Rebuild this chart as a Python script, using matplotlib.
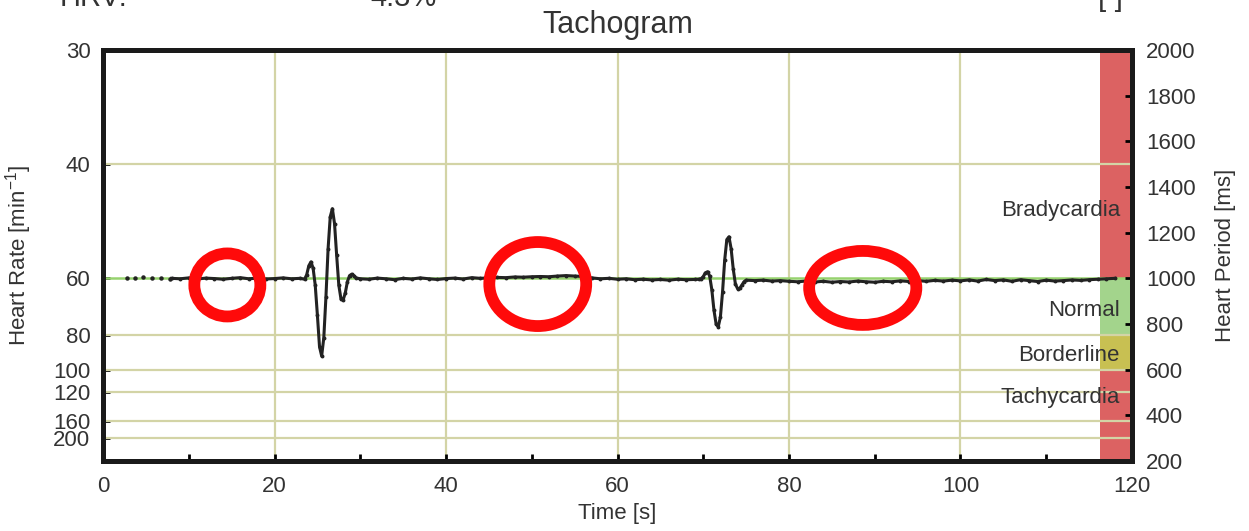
import matplotlib.pyplot as plt
from matplotlib.patches import Ellipse, Rectangle
import numpy as np

plt.rcParams['font.family'] = ['Liberation Sans', 'DejaVu Sans']
plt.rcParams['mathtext.default'] = 'regular'
TXT = '#333333'

# beat-to-beat heart period (ms) over time (s)
start_t = [2.8, 3.7, 4.7, 5.7, 6.8, 7.8]
start_ms = [1003, 1002, 1004, 1003, 1001, 999]

time_s = ([8, 9, 10, 11, 12, 13, 14, 15, 16, 17, 18, 19, 20, 21, 22,
           23.0, 23.5, 23.75, 24.0, 24.25, 24.5, 24.75, 25.0, 25.25, 25.5, 25.75,
           26.0, 26.25, 26.5, 26.75, 27.0, 27.25, 27.5, 27.75, 28.0, 28.25, 28.5,
           28.75, 29.0, 29.25, 29.5, 30.0]
          + list(range(31, 70))
          + [69.5, 69.75, 70.0, 70.25, 70.5, 70.75, 71.0, 71.25, 71.5, 71.75, 72.0,
             72.25, 72.5, 72.75, 73.0, 73.25, 73.5, 73.75, 74.0, 74.25, 74.5, 74.75, 75.0]
          + list(range(76, 119)))
period_ms = ([1000, 998, 1002, 997, 1001, 999, 996, 1000, 1003, 998, 1001, 997, 999, 1002, 998,
              1000, 996, 1015, 1055, 1072, 1045, 970, 840, 700, 660, 740,
              920, 1130, 1270, 1305, 1240, 1100, 970, 910, 905, 935, 985,
              1012, 1018, 1012, 1002, 998]
             + [996, 1001, 998, 994, 1000, 997, 1002, 998, 995, 999, 1001, 997, 1003, 1000,
                1002, 1004, 1003, 1006, 1005, 1007, 1008, 1007, 1010, 1012, 1010, 1008, 1002,
                998, 1000, 996, 998, 994, 996, 993, 995, 992, 996, 994, 995]
             + [996, 998, 1008, 1024, 1029, 1010, 950, 860, 800, 788, 830,
                940, 1080, 1170, 1182, 1130, 1040, 975, 955, 956, 970, 985, 992]
             + [990, 992, 988, 990, 987, 985, 988, 984, 987, 983, 986, 984, 988, 985, 983,
                987, 985, 989, 986, 990, 987, 991, 988, 992, 989, 993, 988, 995, 990, 993,
                987, 994, 990, 986, 992, 988, 990, 993, 991, 994, 996, 998, 1000])

hr_ticks = [30, 40, 60, 80, 100, 120, 160, 200]
hr_grid = [40, 80, 100, 120, 160, 200]
period_ticks = list(range(200, 2001, 200))

# zones in heart rate (bpm): name, upper rate, lower rate
zones = [('Bradycardia', 30, 60), ('Normal', 60, 80), ('Borderline', 80, 100), ('Tachycardia', 100, 200)]
zone_colors = ['#dc6262', '#a3d48c', '#c8c052', '#dc6262']
zone_label_ms = [1295, 861, 664, 476]

fig = plt.figure(figsize=(12.49, 5.31), dpi=100)
ax = fig.add_axes([103 / 1249, 1 - 461 / 531, 1029 / 1249, 411 / 531])
ax.set_xlim(0, 120)
ax.set_ylim(200, 2000)

grid_c = '#d3d4a6'
for x in [20, 40, 60, 80, 100]:
    ax.axvline(x, color=grid_c, lw=1.6, zorder=1)

for (name, hi, lo), c, ly in zip(zones, zone_colors, zone_label_ms):
    top = min(60000 / hi, 2000)
    bot = max(60000 / lo, 200) if lo < 200 else 200
    ax.add_patch(Rectangle((116.3, bot), 3.7, top - bot, color=c, lw=0, zorder=1.5))
    ax.text(118.6, ly, name, ha='right', va='center', fontsize=16, color=TXT, zorder=5)

for h in hr_grid:
    ax.axhline(60000 / h, color=grid_c, lw=1.6, zorder=2)
ax.axhline(1000, color='#96d26e', lw=1.8, zorder=2)

ax.plot(start_t, start_ms, ls='none', marker='o', ms=2.2, color='#222222', zorder=4)
ax.plot(time_s, period_ms, color='#222222', lw=2.2, marker='o', ms=1.8, zorder=4)

# hand-drawn red circles
circles = [(14.5, 971, 7.7, 276), (50.7, 975, 11.3, 368), (88.6, 958, 12.5, 324)]
for cx, cy, w, h in circles:
    ax.add_patch(Ellipse((cx, cy), w, h, fill=False, ec='#ff0a0a', lw=8.5, zorder=6))

ax.set_yticks([60000 / h for h in hr_ticks])
ax.set_yticklabels([str(h) for h in hr_ticks])
ax.set_xticks([0, 20, 40, 60, 80, 100, 120])
ax.set_xticks([10, 30, 50, 70, 90, 110], minor=True)
ax.tick_params(axis='both', which='both', direction='in', length=5, width=2, color='black',
               labelsize=16, labelcolor=TXT)
ax.tick_params(axis='x', pad=11)
ax.tick_params(axis='y', pad=9)
ax.set_xlabel('Time [s]', fontsize=16, color=TXT, labelpad=4)
ax.set_ylabel('Heart Rate [min$^{-1}$]', fontsize=16, color=TXT, labelpad=14)
ax.set_title('Tachogram', fontsize=22, color=TXT, pad=12)

ax2 = ax.twinx()
ax2.set_ylim(200, 2000)
ax2.set_yticks(period_ticks)
ax2.tick_params(axis='y', direction='in', length=5, width=2, labelsize=16, labelcolor=TXT, pad=10)
ax2.set_ylabel('Heart Period [ms]', fontsize=16, color=TXT, labelpad=14)

for a in (ax, ax2):
    for s in a.spines.values():
        s.set_linewidth(3.6)
        s.set_color('#1a1a1a')

# header texts cut off at the top edge
fig.text(60 / 1249, 1 - 6 / 531, 'HRV:', fontsize=21, color=TXT, va='baseline')
fig.text(370 / 1249, 1 - 6 / 531, '4.3%', fontsize=21, color=TXT, va='baseline')
fig.text(1098 / 1249, 1 - 6 / 531, '[-]', fontsize=21, color=TXT, va='baseline')

fig.savefig('out.png', dpi=100)
